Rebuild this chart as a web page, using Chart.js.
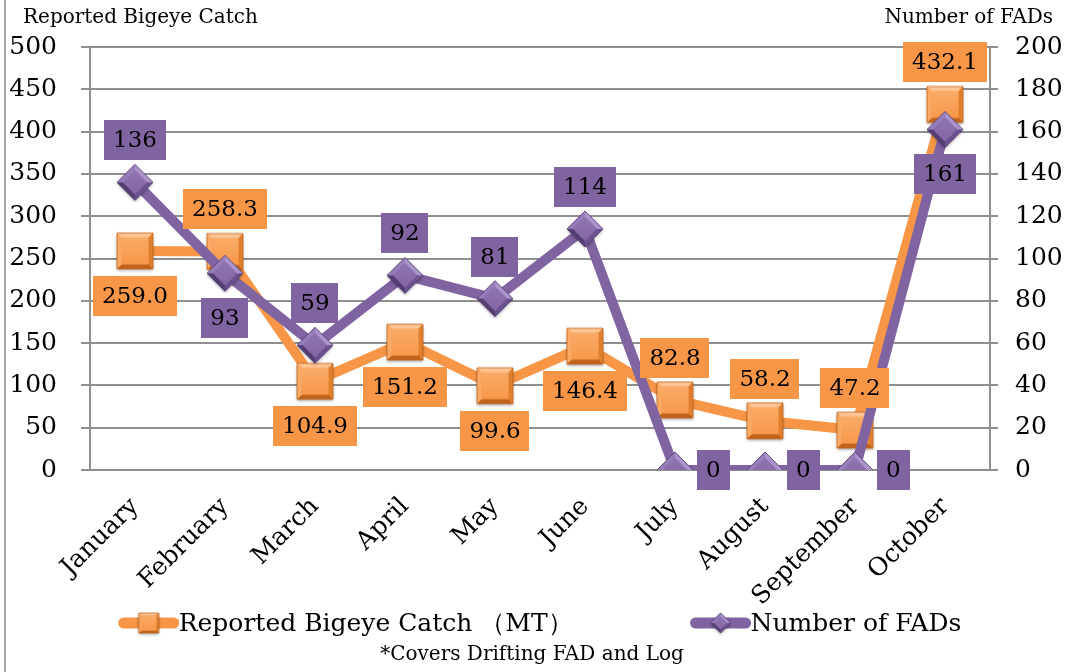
<!DOCTYPE html>
<html>
<head>
<meta charset="utf-8">
<script src="https://cdn.jsdelivr.net/npm/chart.js@4.4.1/dist/chart.umd.min.js"></script>
<style>
  html, body { margin: 0; padding: 0; background: #fff; }
  #wrap { position: relative; width: 1066px; height: 672px; }
  #wrap::before { content: ''; position: absolute; left: 4px; top: 0; bottom: 0; width: 2px; background: #a8a8a8; }
</style>
</head>
<body>
<div id="wrap"><canvas id="ch" width="1066" height="672"></canvas></div>
<script>
'use strict';

// ---- data ----
const months = ['January', 'February', 'March', 'April', 'May', 'June', 'July', 'August', 'September', 'October'];
const catchMT = [259.0, 258.3, 104.9, 151.2, 99.6, 146.4, 82.8, 58.2, 47.2, 432.1];
const fadCount = [136, 93, 59, 92, 81, 114, 0, 0, 0, 161];
const catchTicks = { min: 0, max: 500, step: 50 };
const fadTicks = { min: 0, max: 200, step: 20 };
const seriesNames = ['Reported Bigeye Catch （MT）', 'Number of FADs'];
const axisTitles = ['Reported Bigeye Catch', 'Number of FADs'];
const footnote = '*Covers Drifting FAD and Log';

// where each value box sits relative to its point
const catchLabelPos = ['below', 'above', 'below', 'below', 'below', 'below', 'above', 'above', 'above', 'above'];
const fadLabelPos = ['above', 'below', 'above', 'above', 'above', 'above', 'right', 'right', 'right', 'below'];

const ORANGE = '#F79646', PURPLE = '#8064A2', GRID = '#8f8f8f';
const SERIF = '"DejaVu Serif", serif';

// beveled marker images (like the office "3D" markers)
function makeMarker(shape, size, col) {
  const pad = 4, s = size, o = pad;
  const c = document.createElement('canvas');
  c.width = c.height = s + pad * 2;
  const g = c.getContext('2d');
  const poly = pts => { g.beginPath(); pts.forEach((p, i) => i ? g.lineTo(p[0], p[1]) : g.moveTo(p[0], p[1])); g.closePath(); };
  let outer, inner;
  if (shape === 'square') {
    const b = Math.max(2, s * 0.13);
    outer = [[o, o], [o + s, o], [o + s, o + s], [o, o + s]];
    inner = [[o + b, o + b], [o + s - b, o + b], [o + s - b, o + s - b], [o + b, o + s - b]];
  } else {
    const b = Math.max(2, s * 0.17), cx = o + s / 2, cy = o + s / 2;
    outer = [[cx, o], [o + s, cy], [cx, o + s], [o, cy]];
    inner = [[cx, o + b], [o + s - b, cy], [cx, o + s - b], [o + b, cy]];
  }
  g.save();
  g.shadowColor = 'rgba(0,0,0,0.35)'; g.shadowBlur = 3; g.shadowOffsetY = 1.5;
  poly(outer); g.fillStyle = col.base; g.fill();
  g.restore();
  const facet = (i, fill) => {
    const j = (i + 1) % 4;
    poly([outer[i], outer[j], inner[j], inner[i]]);
    g.fillStyle = fill; g.fill();
  };
  facet(0, col.light); facet(1, col.dark1); facet(2, col.dark2); facet(3, col.light2);
  poly(inner);
  const gr = g.createLinearGradient(0, o, 0, o + s);
  gr.addColorStop(0, col.top); gr.addColorStop(1, col.base);
  g.fillStyle = gr; g.fill();
  poly(outer); g.strokeStyle = col.dark2; g.lineWidth = 0.8; g.stroke();
  return c;
}
const orangeCols = { base: '#F79646', top: '#FAAE6C', light: '#FDC594', light2: '#F9AA66', dark1: '#E0802F', dark2: '#C0631D' };
const purpleCols = { base: '#8064A2', top: '#9178B4', light: '#AB93CB', light2: '#977EBA', dark1: '#6B5190', dark2: '#543D73' };
const catchMarker = makeMarker('square', 36, orangeCols);
const fadMarker = makeMarker('diamond', 36, purpleCols);
const catchMarkerSm = makeMarker('square', 20, orangeCols);
const fadMarkerSm = makeMarker('diamond', 20, purpleCols);

// value boxes drawn after the lines
const boxLabels = {
  id: 'boxLabels',
  afterDatasetsDraw(chart) {
    const ctx = chart.ctx;
    ctx.save();
    ctx.font = '23px ' + SERIF;
    ctx.textAlign = 'center';
    ctx.textBaseline = 'middle';
    chart.data.datasets.forEach((ds, di) => {
      const meta = chart.getDatasetMeta(di);
      meta.data.forEach((pt, i) => {
        const txt = ds.labelText[i];
        const w = ctx.measureText(txt).width + 18, h = 40;
        let cx = pt.x, cy = pt.y;
        if (ds.labelPos[i] === 'above') cy -= 42;
        else if (ds.labelPos[i] === 'below') cy += 45;
        else cx += 22 + w / 2;
        ctx.fillStyle = ds.boxColor;
        ctx.fillRect(Math.round(cx - w / 2), Math.round(cy - h / 2), Math.round(w), h);
        ctx.fillStyle = '#000';
        ctx.fillText(txt, cx, cy + 1);
      });
    });
    ctx.restore();
  }
};

// axis titles, legend and footnote
const extras = {
  id: 'extras',
  afterDraw(chart) {
    const ctx = chart.ctx, area = chart.chartArea;
    ctx.save();
    ctx.fillStyle = '#000';
    ctx.textBaseline = 'middle';
    ctx.font = '20px ' + SERIF;
    ctx.textAlign = 'left';
    ctx.fillText(axisTitles[0], 23, 18);
    ctx.textAlign = 'right';
    ctx.fillText(axisTitles[1], 1053, 18);

    // legend
    ctx.font = '25px ' + SERIF;
    ctx.textAlign = 'left';
    const items = [
      { text: seriesNames[0], color: ORANGE, img: catchMarkerSm },
      { text: seriesNames[1], color: PURPLE, img: fadMarkerSm }
    ];
    const lineW = 60, gap = 118;
    items.forEach(it => it.w = lineW + ctx.measureText(it.text).width);
    const total = items[0].w + gap + items[1].w;
    let x = (area.left + area.right) / 2 - total / 2;
    const y = 623;
    items.forEach(it => {
      ctx.strokeStyle = it.color;
      ctx.lineWidth = 11;
      ctx.lineCap = 'round';
      ctx.beginPath();
      ctx.moveTo(x + 5, y); ctx.lineTo(x + lineW - 5, y);
      ctx.stroke();
      ctx.drawImage(it.img, x + lineW / 2 - it.img.width / 2, y - it.img.height / 2);
      ctx.fillText(it.text, x + lineW, y + 1);
      x += it.w + gap;
    });

    ctx.font = '20px ' + SERIF;
    ctx.textAlign = 'center';
    ctx.fillText(footnote, (area.left + area.right) / 2 - 8, 655);
    ctx.restore();
  }
};

const tickFont = { family: SERIF, size: 25 };

new Chart(document.getElementById('ch'), {
  type: 'line',
  data: {
    labels: months,
    datasets: [
      {
        label: seriesNames[0], data: catchMT, yAxisID: 'y', order: 1,
        borderColor: ORANGE, backgroundColor: ORANGE, borderWidth: 10, borderJoinStyle: 'round',
        pointStyle: catchMarker, pointRadius: 18, pointHoverRadius: 18,
        labelText: catchMT.map(v => v.toFixed(1)), labelPos: catchLabelPos, boxColor: ORANGE
      },
      {
        label: seriesNames[1], data: fadCount, yAxisID: 'y1', order: 0,
        borderColor: PURPLE, backgroundColor: PURPLE, borderWidth: 10, borderJoinStyle: 'round',
        pointStyle: fadMarker, pointRadius: 18, pointHoverRadius: 18,
        labelText: fadCount.map(v => String(v)), labelPos: fadLabelPos, boxColor: PURPLE
      }
    ]
  },
  options: {
    responsive: false,
    animation: false,
    layout: { padding: { top: 47, left: 0, right: 0, bottom: 0 } },
    plugins: { legend: { display: false }, tooltip: { enabled: false } },
    scales: {
      x: {
        offset: true,
        grid: { display: false },
        border: { display: false },
        ticks: { font: tickFont, color: '#000', minRotation: 45, maxRotation: 45, padding: 14 },
        afterFit(s) { s.height = 202; }
      },
      y: {
        position: 'left',
        min: catchTicks.min, max: catchTicks.max,
        ticks: { stepSize: catchTicks.step, font: tickFont, color: '#000', padding: 24 },
        grid: { color: GRID, lineWidth: 2, tickLength: 9 },
        border: { color: GRID, width: 2 },
        afterFit(s) { s.width = 90; }
      },
      y1: {
        position: 'right',
        min: fadTicks.min, max: fadTicks.max,
        ticks: { stepSize: fadTicks.step, font: tickFont, color: '#000', padding: 17 },
        grid: { drawOnChartArea: false, color: GRID, lineWidth: 2, tickLength: 8 },
        border: { color: GRID, width: 2 },
        afterFit(s) { s.width = 76; }
      }
    }
  },
  plugins: [boxLabels, extras]
});
</script>
</body>
</html>
